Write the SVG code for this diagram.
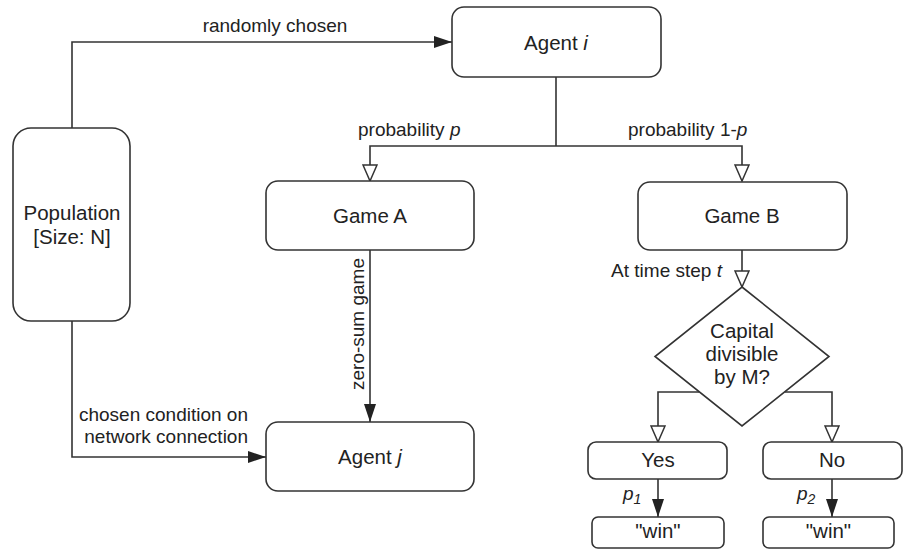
<svg xmlns="http://www.w3.org/2000/svg" width="905" height="550" viewBox="0 0 905 550">
  <style>
    .box { fill: #ffffff; stroke: #333333; stroke-width: 1.6; }
    .wire { fill: none; stroke: #333333; stroke-width: 1.6; }
    .node { font-family: "Liberation Sans", Arial, sans-serif; font-size: 20.5px; fill: #222222; text-anchor: middle; }
    .lbl { font-family: "Liberation Sans", Arial, sans-serif; font-size: 19px; fill: #222222; }
    .it { font-style: italic; }
  </style>
  <defs>
    <marker id="open" markerUnits="userSpaceOnUse" viewBox="0 0 18 16" markerWidth="18" markerHeight="16" refX="17" refY="8" orient="auto">
      <path d="M1,1 L17,8 L1,15 Z" fill="#ffffff" stroke="#333333" stroke-width="1.5"/>
    </marker>
    <marker id="solid" markerUnits="userSpaceOnUse" viewBox="0 0 18 12" markerWidth="18" markerHeight="12" refX="18" refY="6" orient="auto">
      <path d="M0,0 L18,6 L0,12 Z" fill="#222222"/>
    </marker>
  </defs>

  <!-- connectors -->
  <g id="connectors">
    <path class="wire" d="M72,128 V42 H452" marker-end="url(#solid)"/>
    <path class="wire" d="M72,321 V457 H266" marker-end="url(#solid)"/>
    <path class="wire" d="M556,77 V146"/>
    <path class="wire" d="M556,146 H370 V181" marker-end="url(#open)"/>
    <path class="wire" d="M556,146 H742 V181" marker-end="url(#open)"/>
    <path class="wire" d="M370,250 V422" marker-end="url(#solid)"/>
    <path class="wire" d="M742,250 V287" marker-end="url(#open)"/>
    <path class="wire" d="M699,392 H658 V442" marker-end="url(#open)"/>
    <path class="wire" d="M785,392 H832 V442" marker-end="url(#open)"/>
    <path class="wire" d="M658,479 V517" marker-end="url(#solid)"/>
    <path class="wire" d="M832,479 V517" marker-end="url(#solid)"/>

    <text class="lbl" x="275" y="32" text-anchor="middle">randomly chosen</text>
    <text class="lbl" x="358" y="136">probability <tspan class="it">p</tspan></text>
    <text class="lbl" x="628" y="136">probability 1-<tspan class="it">p</tspan></text>
    <text class="lbl" x="248" y="421" text-anchor="end">chosen condition on</text>
    <text class="lbl" x="248" y="443" text-anchor="end">network connection</text>
    <text class="lbl" transform="translate(364,324) rotate(-90)" text-anchor="middle">zero-sum game</text>
    <text class="lbl" x="722" y="277" text-anchor="end">At time step <tspan class="it">t</tspan></text>
    <text class="lbl it" x="623" y="500">p<tspan font-size="14" dy="4">1</tspan></text>
    <text class="lbl it" x="797" y="500">p<tspan font-size="14" dy="4">2</tspan></text>
  </g>

  <g id="population">
    <rect class="box" x="13" y="128" width="117" height="193" rx="18"/>
    <text class="node" x="72" y="220">Population</text>
    <text class="node" x="72" y="244">[Size: N]</text>
  </g>

  <g id="agent-i">
    <rect class="box" x="452" y="7" width="209" height="70" rx="12"/>
    <text class="node" x="556" y="49.5">Agent <tspan class="it">i</tspan></text>
  </g>

  <g id="game-a">
    <rect class="box" x="266" y="181" width="208" height="69" rx="12"/>
    <text class="node" x="370" y="223">Game A</text>
  </g>

  <g id="game-b">
    <rect class="box" x="638" y="182" width="209" height="68" rx="12"/>
    <text class="node" x="742" y="223">Game B</text>
  </g>

  <g id="agent-j">
    <rect class="box" x="266" y="422" width="208" height="69" rx="12"/>
    <text class="node" x="370" y="464">Agent <tspan class="it">j</tspan></text>
  </g>

  <g id="decision">
    <polygon class="box" points="742,287 829,356.5 742,426 655,356.5"/>
    <text class="node" x="742" y="338">Capital</text>
    <text class="node" x="742" y="361">divisible</text>
    <text class="node" x="742" y="384">by M?</text>
  </g>

  <g id="yes">
    <rect class="box" x="588" y="442" width="139" height="37" rx="8"/>
    <text class="node" x="658" y="467">Yes</text>
  </g>

  <g id="no">
    <rect class="box" x="763" y="442" width="139" height="37" rx="8"/>
    <text class="node" x="832" y="467">No</text>
  </g>

  <g id="win-yes">
    <rect class="box" x="592" y="517" width="132" height="31" rx="6"/>
    <text class="node" x="658" y="538">"win"</text>
  </g>

  <g id="win-no">
    <rect class="box" x="763" y="517" width="131" height="31" rx="6"/>
    <text class="node" x="828.5" y="538">"win"</text>
  </g>
</svg>
